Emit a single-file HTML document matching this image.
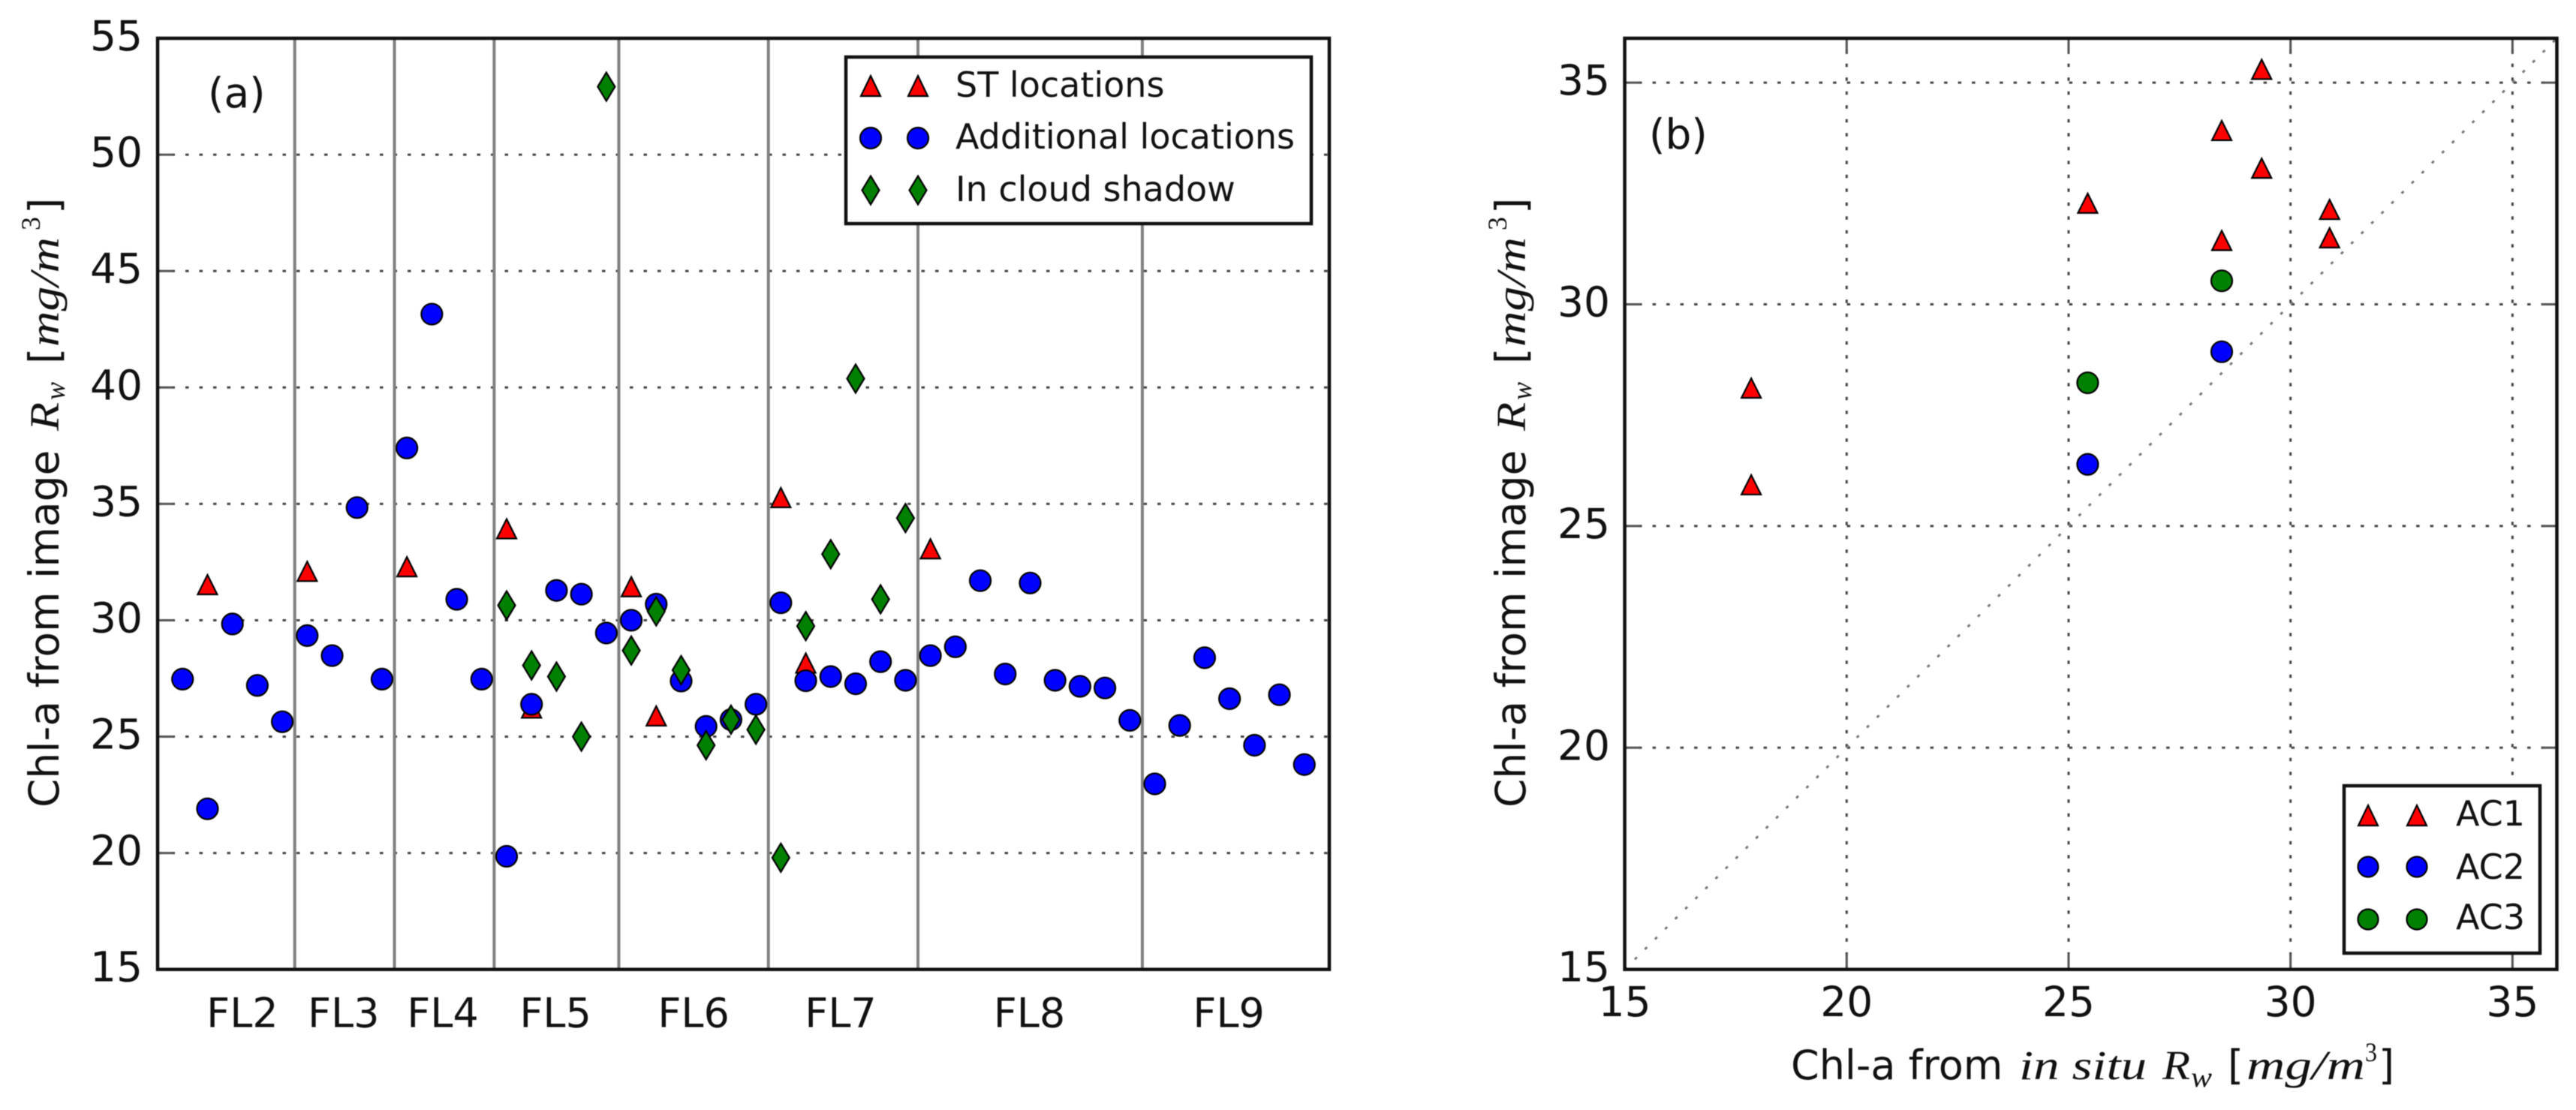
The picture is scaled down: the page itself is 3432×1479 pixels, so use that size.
<!DOCTYPE html>
<html lang="en">
<head>
<meta charset="utf-8">
<title>Chl-a comparison scatter plots</title>
<style>
html,body{margin:0;padding:0;background:#fff;}
svg{display:block;filter:blur(0.6px);}
text{font-family:"DejaVu Sans","Liberation Sans",sans-serif;fill:#111;}
.tick{font-size:55px;}
.leg{font-size:46px;}
.ttl{font-size:55px;}
.math{font-family:"Liberation Serif",serif;font-style:italic;font-size:55px;}
.sub{font-family:"Liberation Serif",serif;font-style:italic;font-size:38px;}
.sup{font-family:"Liberation Serif",serif;font-size:36px;}
</style>
</head>
<body>
<svg id="fig" width="3432" height="1479" viewBox="0 0 3432 1479" xmlns="http://www.w3.org/2000/svg">
  <rect x="0" y="0" width="3432" height="1479" fill="#fff"/>

  <g>
    <g id="a-grid"></g>
    <g id="a-bounds"></g>
    <g id="a-ticks"></g>
    <g id="a-marks"></g>
    <text x="277" y="143" class="tick">(a)</text>

    <g>
      <rect x="1127" y="76" width="620" height="222" fill="#fff" stroke="#111" stroke-width="4.5"/>
      <g>
        <polygon points="1160,101 1173,128 1147,128" fill="#f00" stroke="#000" stroke-width="2.2"/>
        <polygon points="1223,101 1236,128 1210,128" fill="#f00" stroke="#000" stroke-width="2.2"/>
        <text x="1273" y="129" class="leg">ST locations</text>
      </g>
      <g>
        <circle cx="1160" cy="184" r="14" fill="#00f" stroke="#000" stroke-width="2.2"/>
        <circle cx="1223" cy="184" r="14" fill="#00f" stroke="#000" stroke-width="2.2"/>
        <text x="1273" y="198" class="leg">Additional locations</text>
      </g>
      <g>
        <polygon points="1160,234.5 1171.5,253.5 1160,272.5 1148.5,253.5" fill="#008000" stroke="#000" stroke-width="2.2"/>
        <polygon points="1223,234.5 1234.5,253.5 1223,272.5 1211.5,253.5" fill="#008000" stroke="#000" stroke-width="2.2"/>
        <text x="1273" y="268" class="leg">In cloud shadow</text>
      </g>
    </g>

    <rect x="210" y="51" width="1561" height="1240.7" fill="none" stroke="#111" stroke-width="4.5"/>
    <g id="a-labels"></g>

    <g transform="translate(78,1073) rotate(-90)">
      <text x="-3" y="0" class="ttl">Chl-a from image</text>
      <text x="499" y="0" class="math" textLength="38" lengthAdjust="spacingAndGlyphs">R</text>
      <text x="540" y="8" class="sub" textLength="24" lengthAdjust="spacingAndGlyphs">w</text>
      <text x="588" y="0" class="ttl">[</text>
      <text x="611" y="0" class="math" textLength="146" lengthAdjust="spacingAndGlyphs">mg/m</text>
      <text x="766" y="-25" class="sup" textLength="18" lengthAdjust="spacingAndGlyphs">3</text>
      <text x="788" y="0" class="ttl">]</text>
    </g>
  </g>

  <g>
    <g id="b-grid"></g>
    <g id="b-ticks"></g>
    <g id="b-diag"></g>
    <g id="b-marks"></g>
    <text x="2197" y="198" class="tick">(b)</text>

    <g>
      <rect x="3123" y="1047" width="261" height="223" fill="#fff" stroke="#111" stroke-width="4.5"/>
      <g>
        <polygon points="3155,1073 3168,1100 3142,1100" fill="#f00" stroke="#000" stroke-width="2.2"/>
        <polygon points="3220,1073 3233,1100 3207,1100" fill="#f00" stroke="#000" stroke-width="2.2"/>
        <text x="3272" y="1100" class="leg">AC1</text>
      </g>
      <g>
        <circle cx="3155" cy="1155" r="13.5" fill="#00f" stroke="#000" stroke-width="2.2"/>
        <circle cx="3220" cy="1155" r="13.5" fill="#00f" stroke="#000" stroke-width="2.2"/>
        <text x="3272" y="1171" class="leg">AC2</text>
      </g>
      <g>
        <circle cx="3155" cy="1225" r="13.5" fill="#008000" stroke="#000" stroke-width="2.2"/>
        <circle cx="3220" cy="1225" r="13.5" fill="#008000" stroke="#000" stroke-width="2.2"/>
        <text x="3272" y="1238" class="leg">AC3</text>
      </g>
    </g>

    <rect x="2164.6" y="51" width="1241.9" height="1240.7" fill="none" stroke="#111" stroke-width="4.5"/>
    <g id="b-labels"></g>

    <g transform="translate(2032,1073) rotate(-90)">
      <text x="-3" y="0" class="ttl">Chl-a from image</text>
      <text x="499" y="0" class="math" textLength="38" lengthAdjust="spacingAndGlyphs">R</text>
      <text x="540" y="8" class="sub" textLength="24" lengthAdjust="spacingAndGlyphs">w</text>
      <text x="588" y="0" class="ttl">[</text>
      <text x="611" y="0" class="math" textLength="146" lengthAdjust="spacingAndGlyphs">mg/m</text>
      <text x="766" y="-25" class="sup" textLength="18" lengthAdjust="spacingAndGlyphs">3</text>
      <text x="788" y="0" class="ttl">]</text>
    </g>

    <g>
      <text x="2386" y="1438" class="ttl" style="font-size:54px">Chl-a from</text>
      <text x="2690" y="1438" class="math" textLength="170" lengthAdjust="spacingAndGlyphs">in situ</text>
      <text x="2881" y="1438" class="math" textLength="37" lengthAdjust="spacingAndGlyphs">R</text>
      <text x="2919" y="1448" class="sub" textLength="28" lengthAdjust="spacingAndGlyphs">w</text>
      <text x="2968" y="1438" class="ttl" style="font-size:54px">[</text>
      <text x="2993" y="1438" class="math" textLength="158" lengthAdjust="spacingAndGlyphs">mg/m</text>
      <text x="3151" y="1414" class="sup" textLength="16" lengthAdjust="spacingAndGlyphs">3</text>
      <text x="3169" y="1438" class="ttl" style="font-size:54px">]</text>
    </g>
  </g>
</svg>

<script>
// ---- Panel (a) data ----
const aYTicks = [15, 20, 25, 30, 35, 40, 45, 50, 55];
const aGridValues = [20, 25, 30, 35, 40, 45, 50];
const flightNames = ["FL2", "FL3", "FL4", "FL5", "FL6", "FL7", "FL8", "FL9"];
const flightLabelSites = [2.4, 6.46, 10.44, 14.96, 20.5, 26.4, 33.97, 41.97];
const flightBoundarySites = [4.5, 8.5, 12.5, 17.5, 23.5, 29.5, 38.5];

const stSites = [1, 5, 9, 13, 14, 18, 19, 24, 25, 30];
const stChl = [31.53, 32.1, 32.3, 33.93, 26.23, 31.44, 25.89, 35.27, 28.16, 33.07];

const additionalSites = [0, 1, 2, 3, 4, 5, 6, 7, 8, 9, 10, 11, 12, 13, 14, 15, 16, 17, 18, 19, 20, 21, 22, 23, 24, 25, 26, 27, 28, 29, 30, 31, 32, 33, 34, 35, 36, 37, 38, 39, 40, 41, 42, 43, 44, 45];
const additionalChl = [27.47, 21.9, 29.84, 27.2, 25.64, 29.34, 28.48, 34.84, 27.47, 37.4, 43.15, 30.9, 27.47, 19.86, 26.39, 31.28, 31.12, 29.45, 30.0, 30.69, 27.39, 25.44, 25.73, 26.39, 30.75, 27.4, 27.58, 27.27, 28.22, 27.42, 28.48, 28.86, 31.7, 27.69, 31.6, 27.42, 27.16, 27.09, 25.7, 22.97, 25.48, 28.39, 26.63, 24.63, 26.8, 23.8];

const shadowSites = [13, 14, 15, 16, 17, 18, 19, 20, 21, 22, 23, 24, 25, 26, 27, 28, 29];
const shadowChl = [30.64, 28.06, 27.58, 25.0, 52.92, 28.7, 30.38, 27.86, 24.63, 25.73, 25.3, 19.8, 29.75, 32.84, 40.38, 30.9, 34.39];

// ---- Panel (b) data ----
const bTicks = [15, 20, 25, 30, 35];
const bGridValues = [20, 25, 30, 35];
const ac1InSitu = [17.85, 17.85, 25.43, 28.45, 28.45, 29.35, 29.35, 30.88, 30.88];
const ac1Image = [28.11, 25.93, 32.28, 33.92, 31.44, 35.3, 33.07, 32.14, 31.5];
const ac2InSitu = [25.43, 28.45];
const ac2Image = [26.39, 28.93];
const ac3InSitu = [25.43, 28.45];
const ac3Image = [28.23, 30.53];
const oneToOne = [15, 36];

// ---- Axis functions ----
const A = { left: 210, right: 1771, top: 51, bottom: 1291.7, xMin: -1, xMax: 46, yMin: 15, yMax: 55 };
const B = { left: 2164.6, right: 3406.5, top: 51, bottom: 1291.7, xMin: 15, xMax: 36, yMin: 15, yMax: 36 };
function xA(v) { return A.left + (v - A.xMin) / (A.xMax - A.xMin) * (A.right - A.left); }
function yA(v) { return A.bottom - (v - A.yMin) / (A.yMax - A.yMin) * (A.bottom - A.top); }
function xB(v) { return B.left + (v - B.xMin) / (B.xMax - B.xMin) * (B.right - B.left); }
function yB(v) { return B.bottom - (v - B.yMin) / (B.yMax - B.yMin) * (B.bottom - B.top); }

const NS = "http://www.w3.org/2000/svg";
function make(tag, parent, props, content) {
  const n = document.createElementNS(NS, tag);
  for (const k in props) n.setAttribute(k, props[k]);
  if (content !== undefined) n.textContent = content;
  parent.appendChild(n);
  return n;
}
function marker(kind, cx, cy, fill, parent) {
  const style = { fill: fill, stroke: "#000", "stroke-width": 2.2 };
  if (kind === "circle") {
    return make("circle", parent, Object.assign({ cx: cx, cy: cy, r: 14 }, style));
  }
  if (kind === "triangle") {
    const pts = [[cx, cy - 13], [cx + 13, cy + 13], [cx - 13, cy + 13]].map(p => p.join(",")).join(" ");
    return make("polygon", parent, Object.assign({ points: pts }, style));
  }
  const pts = [[cx, cy - 19], [cx + 11.5, cy], [cx, cy + 19], [cx - 11.5, cy]].map(p => p.join(",")).join(" ");
  return make("polygon", parent, Object.assign({ points: pts }, style));
}
const gridStyle = { stroke: "#444", "stroke-width": 3, "stroke-dasharray": "4.5 14" };
const tickStyle = { stroke: "#555", "stroke-width": 3 };

// ---- Panel (a) ----
const aGrid = document.getElementById("a-grid");
const aBounds = document.getElementById("a-bounds");
const aTicks = document.getElementById("a-ticks");
const aMarks = document.getElementById("a-marks");
const aLabels = document.getElementById("a-labels");

aGridValues.forEach(function (v) {
  const line = make("line", aGrid, Object.assign({ x1: A.left, x2: A.right, y1: yA(v), y2: yA(v) }, gridStyle));
  
  
});
flightBoundarySites.forEach(function (s) {
  const line = make("line", aBounds, { x1: xA(s), x2: xA(s), y1: A.top, y2: A.bottom, stroke: "#808080", "stroke-width": 4 });
  
  
});
aYTicks.forEach(function (v) {
  const tick = make("line", aTicks, Object.assign({ x1: A.left, x2: A.left + 21, y1: yA(v), y2: yA(v) }, tickStyle));
  
  
  const label = make("text", aLabels, { x: 190, y: yA(v) + 16, "text-anchor": "end", class: "tick" }, String(v));
  
  
});
flightNames.forEach(function (name, i) {
  const label = make("text", aLabels, { x: xA(flightLabelSites[i]), y: 1368.5, "text-anchor": "middle", class: "tick", style: "font-size:54px" }, name);
  
  
});
stSites.forEach(function (s, i) {
  const m = marker("triangle", xA(s), yA(stChl[i]), "#f00", aMarks);
  
  
});
additionalSites.forEach(function (s, i) {
  const m = marker("circle", xA(s), yA(additionalChl[i]), "#00f", aMarks);
  
  
});
shadowSites.forEach(function (s, i) {
  const m = marker("diamond", xA(s), yA(shadowChl[i]), "#008000", aMarks);
  
  
});

// ---- Panel (b) ----
const bGrid = document.getElementById("b-grid");
const bTicksG = document.getElementById("b-ticks");
const bDiag = document.getElementById("b-diag");
const bMarks = document.getElementById("b-marks");
const bLabels = document.getElementById("b-labels");

bGridValues.forEach(function (v) {
  const h = make("line", bGrid, Object.assign({ x1: B.left, x2: B.right, y1: yB(v), y2: yB(v) }, gridStyle));
  
  
  const w = make("line", bGrid, Object.assign({ x1: xB(v), x2: xB(v), y1: B.bottom, y2: B.top }, gridStyle));
  
  
});
bTicks.forEach(function (v) {
  const yl = make("line", bTicksG, Object.assign({ x1: B.left, x2: B.left + 21, y1: yB(v), y2: yB(v) }, tickStyle));
  
  
  const yr = make("line", bTicksG, Object.assign({ x1: B.right - 21, x2: B.right, y1: yB(v), y2: yB(v) }, tickStyle));
  
  
  const xb = make("line", bTicksG, Object.assign({ x1: xB(v), x2: xB(v), y1: B.bottom, y2: B.bottom - 21 }, tickStyle));
  
  
  const xt = make("line", bTicksG, Object.assign({ x1: xB(v), x2: xB(v), y1: B.top, y2: B.top + 21 }, tickStyle));
  
  
  const ly = make("text", bLabels, { x: 2145, y: yB(v) + 16, "text-anchor": "end", class: "tick" }, String(v));
  
  
  const lx = make("text", bLabels, { x: xB(v), y: 1354, "text-anchor": "middle", class: "tick" }, String(v));
  
  
});
const diagLine = make("line", bDiag, { x1: xB(oneToOne[0]), y1: yB(oneToOne[0]), x2: xB(oneToOne[1]), y2: yB(oneToOne[1]), stroke: "#777", "stroke-width": 3, "stroke-dasharray": "4 15" });



ac1InSitu.forEach(function (v, i) {
  const m = marker("triangle", xB(v), yB(ac1Image[i]), "#f00", bMarks);
  
  
});
ac2InSitu.forEach(function (v, i) {
  const m = marker("circle", xB(v), yB(ac2Image[i]), "#00f", bMarks);
  
  
});
ac3InSitu.forEach(function (v, i) {
  const m = marker("circle", xB(v), yB(ac3Image[i]), "#008000", bMarks);
  
  
});
</script>
</body>
</html>
